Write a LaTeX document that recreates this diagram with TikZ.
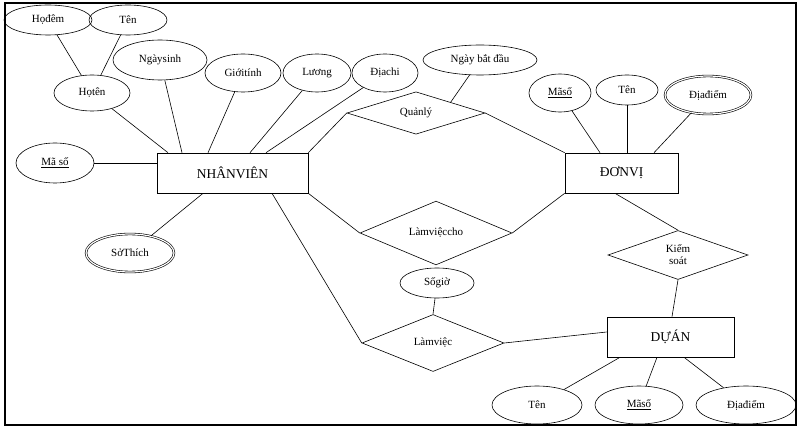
\documentclass[tikz,border=0pt]{standalone}
\usepackage{fontspec}
\setmainfont{Liberation Serif}
\usetikzlibrary{shapes.geometric}
\begin{document}
\begin{tikzpicture}[x=1pt,y=-1pt,
  attr/.style={draw,ellipse,inner sep=0pt,font=\fontsize{11}{12}\selectfont},
  dattr/.style={attr,double,double distance=1.2pt},
  ent/.style={draw,rectangle,inner sep=0pt,font=\fontsize{13.5}{14}\selectfont},
  rel/.style={draw,diamond,inner sep=0pt,font=\fontsize{11}{12}\selectfont,align=center},
  every path/.style={line width=0.6pt}]
\useasboundingbox (0,0) rectangle (800,430);
\draw[line width=1.5pt] (5,3) rectangle (796,425);
% entities
\node[ent,minimum width=151pt,minimum height=40pt] (nv) at (232.5,173) {NHÂNVIÊN};
\node[ent,minimum width=113pt,minimum height=40pt] (dv) at (621.5,173) {ĐƠNVỊ};
\node[ent,minimum width=127pt,minimum height=40pt] (da) at (670.5,337) {DỰÁN};
% relationships
\node[rel,minimum width=138pt,minimum height=40pt] (ql) at (416,113) {Quảnlý};
\node[rel,minimum width=152pt,minimum height=40pt] (lvc) at (436,233) {Làmviệccho};
\node[rel,minimum width=140pt,minimum height=49pt] (ks) at (678,255) {Kiểm\\soát};
\node[rel,minimum width=142pt,minimum height=57pt] (lv) at (433,343) {Làmviệc};
% attributes
\node[attr,minimum width=88pt,minimum height=30pt] (hd) at (48,20) {Họđêm};
\node[attr,minimum width=78pt,minimum height=30pt] (ten1) at (128,20) {Tên};
\node[attr,minimum width=76pt,minimum height=36pt] (ht) at (92,93) {Họtên};
\node[attr,minimum width=94pt,minimum height=40pt] (ns) at (160,60) {Ngàysinh};
\node[attr,minimum width=76pt,minimum height=38pt] (gt) at (243,73) {Giớitính};
\node[attr,minimum width=68pt,minimum height=38pt] (lg) at (317,73) {Lương};
\node[attr,minimum width=66pt,minimum height=38pt] (dc) at (385,73) {Địachi};
\node[attr,minimum width=114pt,minimum height=30pt] (nbd) at (480,60) {Ngày bắt đầu};
\node[attr,minimum width=78pt,minimum height=40pt] (ms1) at (55,163) {\underline{Mã số}};
\node[dattr,minimum width=88pt,minimum height=38pt] (st) at (130,253) {SởThích};
\node[attr,minimum width=62pt,minimum height=38pt] (ms2) at (560,93) {\underline{Mãsố}};
\node[attr,minimum width=62pt,minimum height=30pt] (ten2) at (627,90) {Tên};
\node[dattr,minimum width=86pt,minimum height=38pt] (dd1) at (708,95) {Địađiểm};
\node[attr,minimum width=74pt,minimum height=30pt] (sg) at (437,283) {Sốgiờ};
\node[attr,minimum width=90pt,minimum height=38pt] (ten3) at (537,405) {Tên};
\node[attr,minimum width=88pt,minimum height=38pt] (ms3) at (639,405) {\underline{Mãsố}};
\node[attr,minimum width=100pt,minimum height=38pt] (dd2) at (746,405) {Địađiểm};
% connectors
\draw (hd) -- (ht);
\draw (ten1) -- (ht);
\draw (ht) -- (nv.north west -| 168,0);
\draw (ns) -- (nv.north -| 182,0);
\draw (gt) -- (nv.north -| 208,0);
\draw (lg) -- (nv.north -| 250,0);
\draw (dc) -- (nv.north -| 266,0);
\draw (ms1) -- (nv.west |- 0,163);
\draw (st) -- (nv.south -| 203,0);
\draw (nv.north east) -- (ql.west);
\draw (ql.east) -- (dv.north west);
\draw (nbd) -- (ql.north east);
\draw (nv.south east) -- (lvc.west);
\draw (lvc.east) -- (dv.south west);
\draw (nv.south -| 272,0) -- (lv.west);
\draw (lv.east) -- (da.west |- 0,332);
\draw (sg) -- (lv.north);
\draw (dv.south -| 615,0) -- (ks.north);
\draw (ks.south) -- (da.north -| 672,0);
\draw (ms2) -- (dv.north -| 600,0);
\draw (ten2) -- (dv.north -| 627,0);
\draw (dd1) -- (dv.north -| 654,0);
\draw (ten3) -- (da.south -| 620,0);
\draw (ms3) -- (da.south -| 657,0);
\draw (dd2) -- (da.south -| 684,0);
\end{tikzpicture}
\end{document}
